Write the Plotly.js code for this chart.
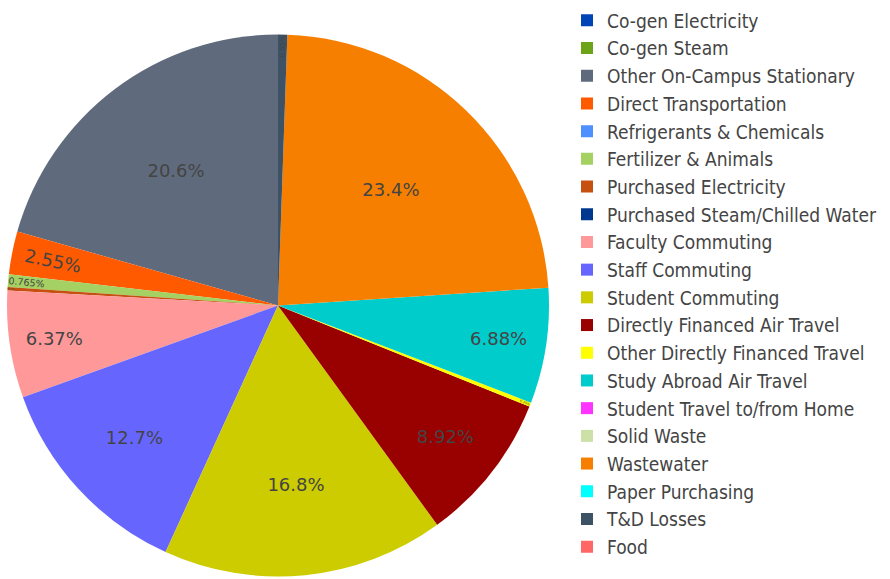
<!DOCTYPE html>
<html><head><meta charset="utf-8">
<script src="https://cdn.plot.ly/plotly-3.0.1.min.js"></script>
<style>html,body{margin:0;padding:0;background:#fff}#chart{width:890px;height:579px}</style>
</head><body><div id="chart"></div>
<script>
const labels = ["Co-gen Electricity","Co-gen Steam","Other On-Campus Stationary","Direct Transportation","Refrigerants & Chemicals","Fertilizer & Animals","Purchased Electricity","Purchased Steam/Chilled Water","Faculty Commuting","Staff Commuting","Student Commuting","Directly Financed Air Travel","Other Directly Financed Travel","Study Abroad Air Travel","Student Travel to/from Home","Solid Waste","Wastewater","Paper Purchasing","T&D Losses","Food"];
const values = [0, 0, 20.6, 2.55, 0, 0.765, 0.2, 0, 6.37, 12.7, 16.8, 8.92, 0.25, 6.88, 0, 0, 23.4, 0, 0.55, 0];
const colors = ["#0045b5","#6ca318","#5f6b7c","#ff5a00","#4d90fe","#a4d162","#c6500f","#00388f","#ff9999","#6666ff","#cccc00","#990000","#ffff00","#00cccc","#ff33ff","#cce0a8","#f77f00","#00ffff","#3e5266","#ff6666"];

Plotly.newPlot('chart', [{
  type: 'pie',
  labels: labels,
  values: values,
  sort: false,
  direction: 'counterclockwise',
  marker: {colors: colors},
  textinfo: 'percent',
  textposition: 'inside',
  textfont: {color: '#444', size: 18, family: 'DejaVu Sans'},
  domain: {x: [7/890, 549/890], y: [2/579, 545/579]}
}], {
  width: 890, height: 579,
  margin: {l: 0, r: 0, t: 0, b: 0},
  font: {family: 'DejaVu Sans', color: '#444'},
  showlegend: true,
  legend: {x: 567/890, y: 1 - 1.5/579, xanchor: 'left', yanchor: 'top',
           font: {size: 19, color: '#444', family: 'DejaVu Sans Condensed'}},
  paper_bgcolor: '#fff'
}, {displayModeBar: false});
</script></body></html>
